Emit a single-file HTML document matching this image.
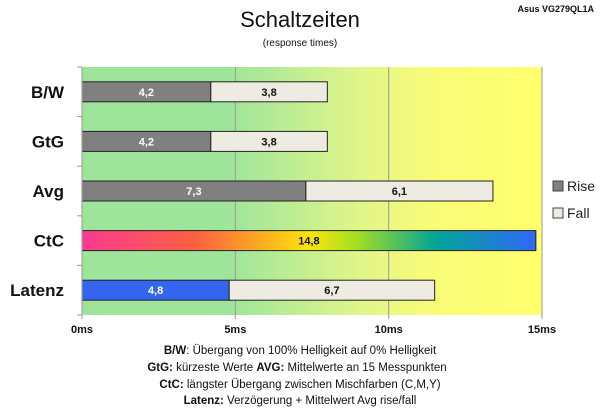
<!DOCTYPE html>
<html><head><meta charset="utf-8"><style>
body{margin:0;background:#fff;}
svg{display:block;font-family:"Liberation Sans",sans-serif;}
</style></head><body>
<svg width="600" height="415" viewBox="0 0 600 415">
<defs>
<linearGradient id="bg" x1="0" x2="1" y1="0" y2="0">
<stop offset="0" stop-color="#9ee59b"/><stop offset="0.32" stop-color="#9ee59b"/>
<stop offset="0.6" stop-color="#e0f58a"/><stop offset="0.75" stop-color="#f8fb78"/><stop offset="1" stop-color="#ffff6e"/>
</linearGradient>
<linearGradient id="ctc" x1="0" x2="1" y1="0" y2="0">
<stop offset="0" stop-color="#fb3a92"/><stop offset="0.25" stop-color="#fd6040"/><stop offset="0.5" stop-color="#fde40c"/>
<stop offset="0.6" stop-color="#a8e020"/><stop offset="0.78" stop-color="#04a497"/><stop offset="1" stop-color="#2e6af8"/>
</linearGradient>
</defs>
<rect x="0" y="0" width="600" height="415" fill="#fff"/>
<text x="300" y="27" text-anchor="middle" font-size="22" fill="#111">Schaltzeiten</text>
<text x="300" y="46" text-anchor="middle" font-size="10" fill="#111">(response times)</text>
<text x="594" y="12" text-anchor="end" font-size="9" font-weight="bold" fill="#111">Asus VG279QL1A</text>
<rect x="82" y="67" width="460" height="248" fill="url(#bg)"/>
<g id="grid"></g>
<g id="bars"></g>
<g id="axes"></g>
<g>
<rect x="553" y="181" width="10" height="10" fill="#808080" stroke="#444"/>
<text x="567" y="191" font-size="14" fill="#222">Rise</text>
<rect x="553" y="208" width="10" height="10" fill="#eeebe2" stroke="#444"/>
<text x="567" y="218" font-size="14" fill="#222">Fall</text>
</g>
<g font-size="11.5" fill="#111" text-anchor="middle">
<text x="300" y="354"><tspan font-weight="bold">B/W</tspan>:  Übergang von 100% Helligkeit auf 0% Helligkeit</text>
<text x="297" y="371"><tspan font-weight="bold">GtG:</tspan> kürzeste Werte     <tspan font-weight="bold">AVG:</tspan> Mittelwerte an 15 Messpunkten</text>
<text x="300" y="388"><tspan font-weight="bold">CtC:</tspan> längster Übergang zwischen Mischfarben (C,M,Y)</text>
<text x="300" y="404"><tspan font-weight="bold">Latenz:</tspan> Verzögerung + Mittelwert Avg rise/fall</text>
</g>
</svg>
<script>
const categories=["B/W","GtG","Avg","CtC","Latenz"];
const riseValues=[4.2,4.2,7.3,14.8,4.8];
const fallValues=[3.8,3.8,6.1,0,6.7];
const riseLabels=["4,2","4,2","7,3","14,8","4,8"];
const fallLabels=["3,8","3,8","6,1","","6,7"];
const xTicks=[0,5,10,15];
const xTickLabels=["0ms","5ms","10ms","15ms"];
const NS="http://www.w3.org/2000/svg";
const X0=82,X1=542,Y0=67,Y1=315,XMAX=15;
const xs=v=>X0+(v/XMAX)*(X1-X0);
const band=(Y1-Y0)/categories.length;
const yc=i=>Y0+band*(i+0.5);
function mk(tag,attrs,parent){const e=document.createElementNS(NS,tag);for(const k in attrs)e.setAttribute(k,attrs[k]);parent.appendChild(e);return e;}
const grid=document.getElementById('grid'),bars=document.getElementById('bars'),axes=document.getElementById('axes');
xTicks.forEach((t,i)=>{
  if(t>0){const l=mk('line',{x1:xs(t),x2:xs(t),y1:Y0,y2:Y1+4,stroke:'#999','stroke-width':1},grid);
  
  }
  const tx=mk('text',{x:xs(t),y:Y1+18,'text-anchor':'middle','font-size':11,'font-weight':'bold',fill:'#111'},axes);
  tx.textContent=xTickLabels[i];
  
  
});
const ax=mk('line',{x1:X0,x2:X0,y1:Y0,y2:Y1+4,stroke:'#999'},axes);


for(let i=0;i<=categories.length;i++){const tk=mk('line',{x1:X0-5,x2:X0,y1:Y0+band*i,y2:Y0+band*i,stroke:'#999'},axes);

}
const bh=20;
categories.forEach((c,i)=>{
  const y=yc(i)-bh/2;
  const lab=mk('text',{x:64,y:yc(i)+6,'text-anchor':'end','font-size':17,'font-weight':'bold',fill:'#111'},axes);
  lab.textContent=c;
  
  
  let fill='#808080',tcol='#fff';
  if(c==='CtC'){fill='url(#ctc)';tcol='#111';}
  if(c==='Latenz'){fill='#3565ee';}
  const r=mk('rect',{x:xs(0),y:y,width:xs(riseValues[i])-xs(0),height:bh,fill:fill,stroke:'#222','stroke-width':1},bars);
  
  
  const rt=mk('text',{x:(xs(0)+xs(riseValues[i]))/2,y:yc(i)+4,'text-anchor':'middle','font-size':11,'font-weight':'bold',fill:tcol},bars);
  rt.textContent=riseLabels[i];
  
  
  if(fallValues[i]>0){
    const a=riseValues[i],b=riseValues[i]+fallValues[i];
    const f=mk('rect',{x:xs(a),y:y,width:xs(b)-xs(a),height:bh,fill:'#eeebe2',stroke:'#222','stroke-width':1},bars);
    
    
    const ft=mk('text',{x:(xs(a)+xs(b))/2,y:yc(i)+4,'text-anchor':'middle','font-size':11,'font-weight':'bold',fill:'#111'},bars);
    ft.textContent=fallLabels[i];
    
    
  }
});
</script>
</body></html>
